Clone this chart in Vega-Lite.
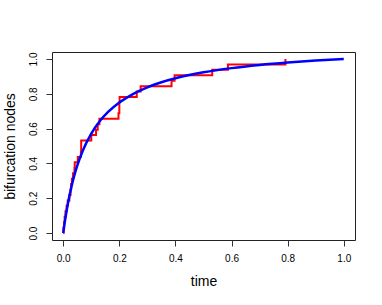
{
  "$schema": "https://vega.github.io/schema/vega-lite/v6.json",
  "width": 303,
  "height": 188,
  "autosize": {"type": "none"},
  "padding": {"left": 52, "top": 52, "right": 27, "bottom": 65},
  "background": "white",
  "config": {
    "view": {"stroke": "#222", "strokeWidth": 1},
    "font": "Liberation Sans",
    "axis": {
      "domain": false,
      "grid": false,
      "tickColor": "#333",
      "tickSize": 6,
      "labelColor": "#000",
      "titleColor": "#000",
      "labelFont": "Liberation Sans",
      "titleFont": "Liberation Sans",
      "labelFontSize": 10,
      "titleFontSize": 14,
      "titleFontWeight": "normal"
    }
  },
  "datasets": {
    "ecdf": [
      {"k": 0, "time": 0.0, "value": 0.0},
      {"k": 1, "time": 0.001, "value": 0.03125},
      {"k": 2, "time": 0.003, "value": 0.0625},
      {"k": 3, "time": 0.005, "value": 0.09375},
      {"k": 4, "time": 0.008, "value": 0.125},
      {"k": 5, "time": 0.012, "value": 0.15625},
      {"k": 6, "time": 0.016, "value": 0.1875},
      {"k": 7, "time": 0.022, "value": 0.21875},
      {"k": 8, "time": 0.026, "value": 0.25},
      {"k": 9, "time": 0.028, "value": 0.28125},
      {"k": 10, "time": 0.031, "value": 0.3125},
      {"k": 11, "time": 0.035, "value": 0.34375},
      {"k": 12, "time": 0.04, "value": 0.375},
      {"k": 13, "time": 0.041, "value": 0.40625},
      {"k": 14, "time": 0.052, "value": 0.4375},
      {"k": 15, "time": 0.063, "value": 0.46875},
      {"k": 16, "time": 0.064, "value": 0.5},
      {"k": 17, "time": 0.064, "value": 0.53125},
      {"k": 18, "time": 0.1, "value": 0.5625},
      {"k": 19, "time": 0.117, "value": 0.59375},
      {"k": 20, "time": 0.123, "value": 0.625},
      {"k": 21, "time": 0.129, "value": 0.65625},
      {"k": 22, "time": 0.197, "value": 0.6875},
      {"k": 23, "time": 0.2, "value": 0.71875},
      {"k": 24, "time": 0.2, "value": 0.75},
      {"k": 25, "time": 0.201, "value": 0.78125},
      {"k": 26, "time": 0.262, "value": 0.8125},
      {"k": 27, "time": 0.276, "value": 0.84375},
      {"k": 28, "time": 0.386, "value": 0.875},
      {"k": 29, "time": 0.397, "value": 0.90625},
      {"k": 30, "time": 0.531, "value": 0.9375},
      {"k": 31, "time": 0.587, "value": 0.96875},
      {"k": 32, "time": 0.792, "value": 1.0}
    ],
    "curve": [
      {"time": 0.0, "value": 0.0},
      {"time": 0.005, "value": 0.0569},
      {"time": 0.01, "value": 0.1081},
      {"time": 0.02, "value": 0.1967},
      {"time": 0.03, "value": 0.2707},
      {"time": 0.04, "value": 0.3334},
      {"time": 0.05, "value": 0.3871},
      {"time": 0.07, "value": 0.4746},
      {"time": 0.1, "value": 0.5715},
      {"time": 0.13, "value": 0.642},
      {"time": 0.16, "value": 0.6957},
      {"time": 0.2, "value": 0.75},
      {"time": 0.25, "value": 0.8},
      {"time": 0.3, "value": 0.8372},
      {"time": 0.35, "value": 0.866},
      {"time": 0.4, "value": 0.8889},
      {"time": 0.5, "value": 0.9231},
      {"time": 0.6, "value": 0.9474},
      {"time": 0.7, "value": 0.9655},
      {"time": 0.8, "value": 0.9796},
      {"time": 0.9, "value": 0.9908},
      {"time": 1.0, "value": 1.0}
    ]
  },
  "encoding": {
    "x": {
      "field": "time",
      "type": "quantitative",
      "scale": {"domain": [-0.04, 1.04], "nice": false, "zero": false},
      "axis": {"values": [0, 0.2, 0.4, 0.6, 0.8, 1.0], "format": ".1f", "title": "time", "labelPadding": 7, "titlePadding": 11}
    },
    "y": {
      "field": "value",
      "type": "quantitative",
      "scale": {"domain": [-0.04, 1.04], "nice": false, "zero": false},
      "axis": {"values": [0, 0.2, 0.4, 0.6, 0.8, 1.0], "format": ".1f", "title": "bifurcation nodes", "labelAngle": -90, "labelAlign": "center", "labelBaseline": "bottom", "labelPadding": 8, "titlePadding": 11}
    }
  },
  "layer": [
    {
      "data": {"name": "ecdf"},
      "mark": {"type": "line", "interpolate": "step-after", "color": "#FF0000", "strokeWidth": 2},
      "encoding": {"order": {"field": "k", "type": "quantitative"}}
    },
    {
      "data": {"name": "curve"},
      "mark": {"type": "line", "interpolate": "monotone", "color": "#0000FF", "strokeWidth": 2.5},
      "encoding": {}
    }
  ]
}
